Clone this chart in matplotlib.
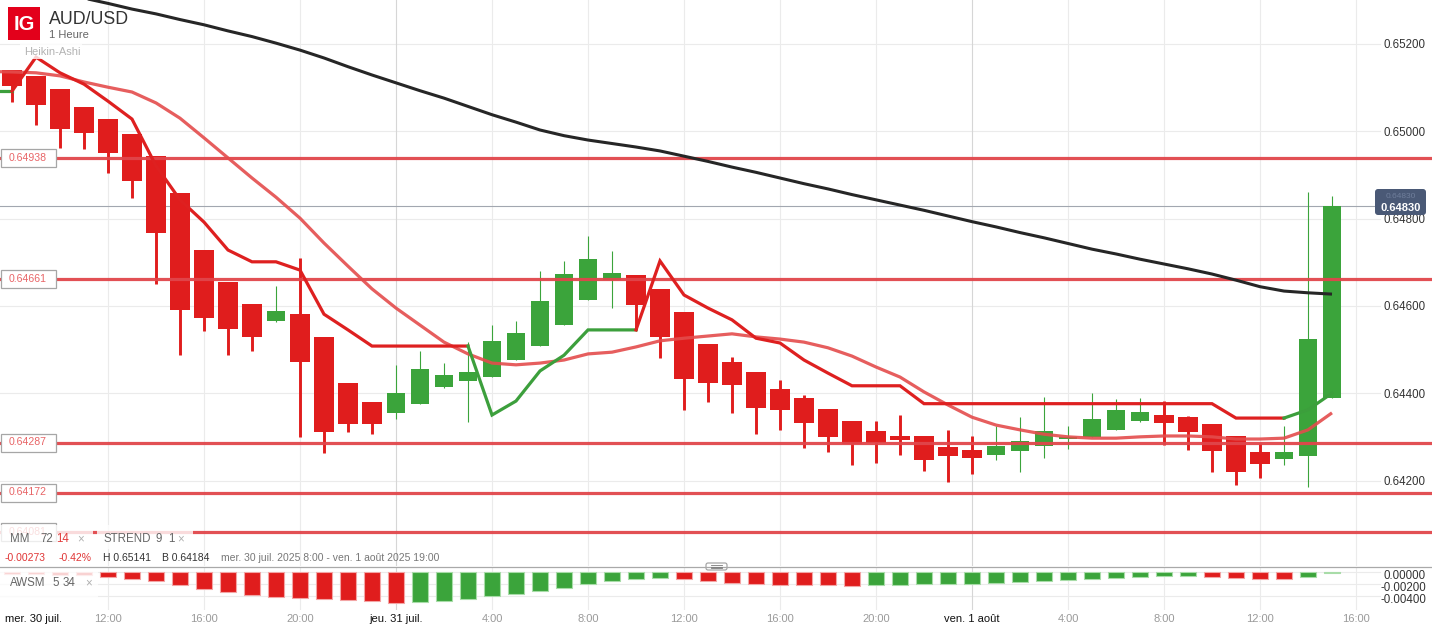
import numpy as np
import matplotlib
matplotlib.use("Agg")
import matplotlib.pyplot as plt
import matplotlib.transforms as mtransforms
from matplotlib.patches import Rectangle, FancyBboxPatch
from matplotlib.lines import Line2D

W, H = 1432, 626

# AUD/USD 1h Heikin-Ashi, mer. 30 juil. 8:00 -> ven. 1 août 15:00 (one value per hour)
ha_open = [0.65141, 0.65127, 0.65097, 0.65056, 0.65028, 0.64994, 0.64943, 0.64859, 0.64728, 0.64655,
           0.64604, 0.64566, 0.64581, 0.64529, 0.64423, 0.64380, 0.64355, 0.64376, 0.64415, 0.64429,
           0.64438, 0.64477, 0.64507, 0.64557, 0.64614, 0.64660, 0.64671, 0.64639, 0.64586, 0.64513,
           0.64471, 0.64449, 0.64410, 0.64389, 0.64364, 0.64336, 0.64313, 0.64303, 0.64302, 0.64277,
           0.64270, 0.64259, 0.64268, 0.64280, 0.64296, 0.64300, 0.64316, 0.64336, 0.64350, 0.64345,
           0.64329, 0.64302, 0.64265, 0.64250, 0.64256, 0.64389]
ha_high = [0.65141, 0.65127, 0.65097, 0.65056, 0.65028, 0.64994, 0.64943, 0.64859, 0.64728, 0.64655,
           0.64604, 0.64646, 0.64710, 0.64529, 0.64423, 0.64380, 0.64465, 0.64497, 0.64469, 0.64517,
           0.64556, 0.64565, 0.64680, 0.64703, 0.64760, 0.64726, 0.64671, 0.64639, 0.64586, 0.64513,
           0.64483, 0.64449, 0.64430, 0.64396, 0.64364, 0.64336, 0.64336, 0.64350, 0.64302, 0.64316,
           0.64302, 0.64324, 0.64345, 0.64391, 0.64325, 0.64400, 0.64387, 0.64389, 0.64382, 0.64348,
           0.64329, 0.64302, 0.64287, 0.64325, 0.64861, 0.64852]
ha_low = [0.65066, 0.65014, 0.64962, 0.64960, 0.64905, 0.64848, 0.64651, 0.64488, 0.64543, 0.64488,
          0.64497, 0.64563, 0.64300, 0.64262, 0.64312, 0.64307, 0.64342, 0.64376, 0.64412, 0.64335,
          0.64438, 0.64477, 0.64507, 0.64557, 0.64614, 0.64596, 0.64545, 0.64481, 0.64362, 0.64380,
          0.64355, 0.64307, 0.64316, 0.64275, 0.64266, 0.64236, 0.64241, 0.64259, 0.64222, 0.64197,
          0.64216, 0.64248, 0.64220, 0.64252, 0.64273, 0.64300, 0.64316, 0.64334, 0.64281, 0.64270,
          0.64220, 0.64190, 0.64206, 0.64236, 0.64184, 0.64389]
ha_close = [0.65104, 0.65061, 0.65006, 0.64997, 0.64951, 0.64887, 0.64768, 0.64591, 0.64573, 0.64548,
            0.64529, 0.64588, 0.64472, 0.64310, 0.64330, 0.64330, 0.64400, 0.64455, 0.64442, 0.64449,
            0.64520, 0.64538, 0.64611, 0.64673, 0.64707, 0.64675, 0.64603, 0.64529, 0.64433, 0.64424,
            0.64419, 0.64367, 0.64362, 0.64332, 0.64300, 0.64284, 0.64287, 0.64293, 0.64248, 0.64255,
            0.64252, 0.64279, 0.64290, 0.64313, 0.64299, 0.64341, 0.64362, 0.64357, 0.64332, 0.64310,
            0.64268, 0.64220, 0.64238, 0.64265, 0.64524, 0.64830]

# indicator lines start one hour earlier (index -1) so they reach the left edge
mm72 = [0.65353, 0.65342, 0.65331, 0.65317, 0.65305, 0.65293, 0.65280, 0.65269, 0.65256, 0.65244,
        0.65230, 0.65217, 0.65202, 0.65186, 0.65168, 0.65148, 0.65129, 0.65111, 0.65093, 0.65076,
        0.65057, 0.65038, 0.65021, 0.65003, 0.64990, 0.64980, 0.64972, 0.64964, 0.64955, 0.64943,
        0.64931, 0.64918, 0.64906, 0.64893, 0.64880, 0.64868, 0.64855, 0.64843, 0.64831, 0.64819,
        0.64806, 0.64793, 0.64781, 0.64768, 0.64756, 0.64743, 0.64730, 0.64719, 0.64707, 0.64696,
        0.64685, 0.64673, 0.64659, 0.64644, 0.64634, 0.64630, 0.64627]
mm14 = [0.65137, 0.65136, 0.65134, 0.65127, 0.65113, 0.65101, 0.65090, 0.65065, 0.65030, 0.64985,
        0.64939, 0.64893, 0.64849, 0.64801, 0.64744, 0.64691, 0.64639, 0.64595, 0.64556, 0.64517,
        0.64490, 0.64469, 0.64465, 0.64469, 0.64476, 0.64490, 0.64494, 0.64506, 0.64520, 0.64526,
        0.64531, 0.64536, 0.64529, 0.64524, 0.64517, 0.64504, 0.64485, 0.64460, 0.64437, 0.64403,
        0.64373, 0.64345, 0.64327, 0.64316, 0.64306, 0.64300, 0.64297, 0.64297, 0.64300, 0.64302,
        0.64302, 0.64300, 0.64295, 0.64295, 0.64297, 0.64316, 0.64355]
strend = [0.65092, 0.65092, 0.65170, 0.65134, 0.65108, 0.65069, 0.65028, 0.64921, 0.64843, 0.64792,
          0.64728, 0.64701, 0.64701, 0.64682, 0.64581, 0.64545, 0.64508, 0.64508, 0.64508, 0.64508,
          0.64508, 0.64350, 0.64382, 0.64451, 0.64487, 0.64545, 0.64545, 0.64545, 0.64703, 0.64625,
          0.64595, 0.64568, 0.64526, 0.64515, 0.64476, 0.64446, 0.64417, 0.64417, 0.64417, 0.64376,
          0.64376, 0.64376, 0.64376, 0.64376, 0.64376, 0.64376, 0.64376, 0.64376, 0.64376, 0.64376,
          0.64376, 0.64376, 0.64343, 0.64343, 0.64343, 0.64362, 0.64400]
strend_dir = ["up"] * 2 + ["down"] * 19 + ["up"] * 7 + ["down"] * 27 + ["up"] * 2

awsm = [-0.00030, -0.00032, -0.00042, -0.00052, -0.00085, -0.00118, -0.00152, -0.00208, -0.00275, -0.00325,
        -0.00385, -0.00408, -0.00425, -0.00447, -0.00468, -0.00485, -0.00513, -0.00502, -0.00475, -0.00450,
        -0.00397, -0.00358, -0.00308, -0.00258, -0.00197, -0.00147, -0.00113, -0.00102, -0.00113, -0.00142,
        -0.00175, -0.00197, -0.00208, -0.00213, -0.00218, -0.00222, -0.00213, -0.00208, -0.00202, -0.00197,
        -0.00192, -0.00180, -0.00168, -0.00147, -0.00135, -0.00108, -0.00092, -0.00075, -0.00068, -0.00066,
        -0.00075, -0.00092, -0.00108, -0.00118, -0.00075, -0.00013]

levels = [0.64938, 0.64661, 0.64287, 0.64172, 0.64081]
last_price = 0.64830

price_ticks = [0.652, 0.650, 0.648, 0.646, 0.644, 0.642]
price_labels = ["0.65200", "0.65000", "0.64800", "0.64600", "0.64400", "0.64200"]
awsm_ticks = [0.0, -0.002, -0.004]
awsm_labels = ["0.00000", "-0.00200", "-0.00400"]

time_pos = [4, 8, 12, 16, 20, 24, 28, 32, 36, 40, 44, 48, 52, 56]
time_labels = ["12:00", "16:00", "20:00", "jeu. 31 juil.", "4:00", "8:00", "12:00",
               "16:00", "20:00", "ven. 1 août", "4:00", "8:00", "12:00", "16:00"]
first_day = "mer. 30 juil."

info_change = "-0.00273"
info_pct = "-0.42%"
info_high = "H 0.65141"
info_low = "B 0.64184"
info_range = "mer. 30 juil. 2025 8:00 - ven. 1 août 2025 19:00"

RED = "#e01d1d"
GREEN = "#3ba43b"
LEVEL_RED = "#e1464b"
GRID = "#ebebeb"

plt.rcParams["font.family"] = ["Liberation Sans", "DejaVu Sans"]

fig = plt.figure(figsize=(W / 100, H / 100), dpi=100)
fig.patch.set_facecolor("white")
PX = mtransforms.IdentityTransform()


def top(y):
    return H - y


def px_down(p):
    return mtransforms.ScaledTranslation(0, -p / 100, fig.dpi_scale_trans)


MAIN_BOTTOM = 566
IND_TOP, IND_BOTTOM = 567, 610
PX_PER_UNIT = 87.3 / 0.002   # price pane: 0.00200 per 87.3 px, 0.65200 at y=44
AO_PX_PER_UNIT = 12 / 0.002  # awsm pane: zero at y=572.2

ax = fig.add_axes([0, 1 - MAIN_BOTTOM / H, 1, MAIN_BOTTOM / H])
ax2 = fig.add_axes([0, 1 - IND_BOTTOM / H, 1, (IND_BOTTOM - IND_TOP) / H])
for a in (ax, ax2):
    a.set_xticks([])
    a.set_yticks([])
    for s in a.spines.values():
        s.set_visible(False)
    a.set_facecolor("none")
    a.set_xlim(-0.5, W / 24 - 0.5)
ax.set_ylim(0.652 - (MAIN_BOTTOM - 44) / PX_PER_UNIT, 0.652 + 44 / PX_PER_UNIT)
ax2.set_ylim(-(IND_BOTTOM - 572.2) / AO_PX_PER_UNIT, (572.2 - IND_TOP) / AO_PX_PER_UNIT)

# grid
gx = 1380 / W
for t in price_ticks:
    ax.axhline(t, xmax=gx, color=GRID, lw=0.8, zorder=0)
for t in awsm_ticks:
    ax2.axhline(t, xmax=gx, color=GRID, lw=0.8, zorder=0)
for pos, lab in zip(time_pos, time_labels):
    col = GRID if lab[0].isdigit() else "#d6d6d6"
    ax.axvline(pos, color=col, lw=0.8, zorder=0)
    ax2.axvline(pos, color=col, lw=0.8, zorder=0)

# last price line
ax.axhline(last_price, xmax=1374 / W, color="#a2a7b0", lw=0.8, zorder=1)

# candles
o = np.array(ha_open)
hi = np.array(ha_high)
lo = np.array(ha_low)
c = np.array(ha_close)
idx = np.arange(len(o))
up = c >= o
ax.vlines(idx[~up], lo[~up], hi[~up], color=RED, lw=2.1, zorder=2)
ax.vlines(idx[up], lo[up], hi[up], color=GREEN, lw=0.8, zorder=2)
body_lo = np.minimum(o, c)
body_h = np.maximum(np.abs(c - o), 0.00002)
ax.bar(idx[~up], body_h[~up], bottom=body_lo[~up], width=0.83, color=RED, lw=0, zorder=2.1)
ax.bar(idx[up], body_h[up], bottom=body_lo[up], width=0.75, color=GREEN, lw=0, zorder=2.1)

# horizontal levels
for lv in levels:
    ax.axhline(lv, color=LEVEL_RED, lw=2.3, alpha=0.95, zorder=3)

# moving averages
line_idx = np.arange(-1, len(o))
ax.plot(line_idx, mm72, color="#262626", lw=2.2, zorder=4, solid_capstyle="butt")
ax.plot(line_idx, mm14, color="#e44c4c", lw=2.3, alpha=0.9, zorder=4, solid_capstyle="butt")

# supertrend, coloured by direction
k = 1
while k < len(strend):
    d = strend_dir[k]
    start = k - 1
    while k < len(strend) and strend_dir[k] == d:
        k += 1
    ax.plot(line_idx[start:k], strend[start:k], color="#3c9f3c" if d == "up" else "#de2020",
            lw=2.3, zorder=4.5, solid_joinstyle="miter")

# level label boxes on the left
lev_tr = mtransforms.blended_transform_factory(PX, ax.transData)
for lv in levels:
    ax.add_patch(Rectangle((0.5, lv - 9 / PX_PER_UNIT), 55, 18 / PX_PER_UNIT, transform=lev_tr,
                           fc="white", ec="#a6a6a6", lw=0.9, zorder=6, clip_on=False))
    ax.text(28, lv, f"{lv:.5f}", transform=lev_tr + px_down(2.7), ha="center", va="baseline",
            fontsize=7.6, color="#e86466", zorder=7)

# right price scale
for t, lab in zip(price_ticks, price_labels):
    ax.text(1426, t, lab, transform=lev_tr + px_down(4.4), ha="right", va="baseline",
            fontsize=8.3, color="#333333")
ao_tr = mtransforms.blended_transform_factory(PX, ax2.transData)
for t, lab in zip(awsm_ticks, awsm_labels):
    ax2.text(1426, t, lab, transform=ao_tr + px_down(7), ha="right", va="baseline",
             fontsize=8.3, color="#333333")

# awsm histogram
ao = np.array(awsm)
rising = np.concatenate([[False], ao[1:] > ao[:-1]])
ao_idx = np.arange(len(ao))
ax2.bar(ao_idx[~rising], ao[~rising], width=0.7, color=RED, edgecolor="#f3a5a5", lw=0.8, zorder=2)
ax2.bar(ao_idx[rising], ao[rising], width=0.7, color=GREEN, edgecolor="#a8dca8", lw=0.8, zorder=2)

# time labels
t_tr = mtransforms.blended_transform_factory(ax2.transData, PX)
for pos, lab in zip(time_pos, time_labels):
    is_day = not lab[0].isdigit()
    ax2.text(pos, top(621.5), lab, transform=t_tr, ha="center", va="baseline", fontsize=8,
             color="#111111" if is_day else "#9a9a9a")
fig.text(5, top(621.5), first_day, transform=PX, ha="left", va="baseline", fontsize=8, color="#111111")

# pane separator and handle
fig.add_artist(Line2D([0, W], [top(566.5), top(566.5)], transform=PX, color="#a9a9a9", lw=0.9))
fig.add_artist(FancyBboxPatch((706, top(570)), 21, 7, boxstyle="round,pad=0,rounding_size=2",
                              fc="white", ec="#9c9c9c", lw=0.8, transform=PX))
for yy in (564.6, 566.5, 568.4):
    fig.add_artist(Line2D([711, 722], [top(yy), top(yy)], transform=PX, color="#7a7a7a", lw=0.6))

# last price tag
fig.add_artist(FancyBboxPatch((1375, top(215)), 51, 26, boxstyle="round,pad=0,rounding_size=3",
                              fc="#4a5976", ec="none", transform=PX))
fig.text(1400.5, top(198.5), f"{last_price:.5f}", transform=PX, ha="center", va="baseline",
         fontsize=6, color="#6f7e9b")
fig.text(1400.5, top(211.3), f"{last_price:.5f}", transform=PX, ha="center", va="baseline",
         fontsize=8, color="white", fontweight="bold")

# translucent legend panels
for x0, y0, w, h in [(0, 525, 93, 24), (97, 525, 96, 24), (0, 568, 98, 29), (20, 44, 62, 15)]:
    fig.add_artist(Rectangle((x0, top(y0 + h)), w, h, transform=PX, fc="white", ec="none", alpha=0.8))

# header
fig.add_artist(Rectangle((8, top(40)), 32, 33, transform=PX, fc="#e3001b", ec="none"))
fig.text(24, top(30), "IG", transform=PX, ha="center", va="baseline", fontsize=14.5,
         fontweight="bold", color="white")
fig.text(49, top(23.5), "AUD/USD", transform=PX, ha="left", va="baseline", fontsize=12.8, color="#333333")
fig.text(49, top(38.3), "1 Heure", transform=PX, ha="left", va="baseline", fontsize=8, color="#666666")
fig.text(24, top(55), "Heikin-Ashi", transform=PX, ha="left", va="baseline", fontsize=8, color="#b3b3b3")

# indicator legends
legend_items = [(10, "MM", "#666666"), (40, "72", "#666666"), (56, "14", "#e23c3c"), (77, "×", "#b0b0b0"),
                (103, "STREND", "#666666"), (155, "9", "#666666"), (168, "1", "#666666"), (177, "×", "#b0b0b0")]
for x0, s, col in legend_items:
    fig.text(x0, top(542.3), s, transform=PX, ha="left", va="baseline", fontsize=8.3, color=col)
info_items = [(5, info_change, "#e03535"), (59, info_pct, "#e03535"), (103, info_high, "#333333"),
              (162, info_low, "#333333"), (221, info_range, "#777777")]
for x0, s, col in info_items:
    fig.text(x0, top(561), s, transform=PX, ha="left", va="baseline", fontsize=7.5, color=col)
awsm_items = [(10, "AWSM", "#666666"), (52, "5", "#666666"), (63, "34", "#666666"), (85, "×", "#b0b0b0")]
for x0, s, col in awsm_items:
    fig.text(x0, top(586), s, transform=PX, ha="left", va="baseline", fontsize=8.3, color=col)

fig.savefig("out.png", dpi=100, facecolor="white")
